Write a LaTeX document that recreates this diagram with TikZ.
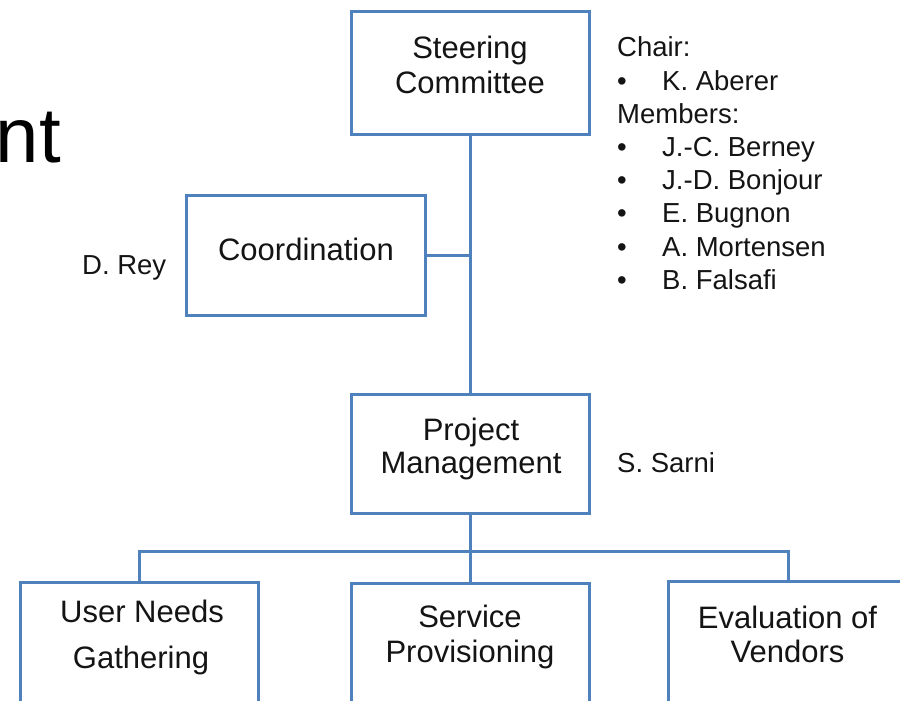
\documentclass[tikz,border=0pt]{standalone}
\usepackage{fontspec}
\setmainfont{Liberation Sans}
\definecolor{boxblue}{RGB}{79,129,189}
\definecolor{txt}{RGB}{20,20,20}
\tikzset{
  orgbox/.style={draw=boxblue, line width=3pt, fill=white, inner sep=0pt},
  conn/.style={draw=boxblue, line width=3pt},
  boxtxt/.style={anchor=base, inner sep=0pt, text=txt, font=\fontsize{31}{34}\selectfont},
  sidetxt/.style={anchor=base west, inner sep=0pt, text=txt, font=\fontsize{27.5}{33}\selectfont},
}
\begin{document}
\begin{tikzpicture}[x=1pt, y=-1pt]
\useasboundingbox (0,0) rectangle (900,701);
\clip (0,0) rectangle (900,701);
% title fragment
\node[anchor=base east, inner sep=0pt, font=\fontsize{78}{90}\selectfont, text=black] (title) at (61,162) {nt};
% boxes
\node[orgbox, minimum width=238pt, minimum height=122pt] (sc) at (470,73) {};
\node[orgbox, minimum width=239pt, minimum height=120pt] (co) at (306,255.5) {};
\node[orgbox, minimum width=238pt, minimum height=119pt] (pm) at (470,454) {};
\node[orgbox, minimum width=238pt, minimum height=200pt] (un) at (139,682) {};
\node[orgbox, minimum width=238pt, minimum height=200pt] (sp) at (470,683) {};
\node[orgbox, minimum width=239pt, minimum height=200pt] (ev) at (788,681) {};
% connectors
\coordinate (bus) at (470,551);
\draw[conn] (sc.south) -- (pm.north);
\draw[conn] (co.east) -- (co.east -| sc.south);
\draw[conn] (pm.south) -- (bus);
\draw[conn] (un.north) |- (bus) -| (ev.north);
\draw[conn] (bus) -- (sp.north);
% box labels
\node[boxtxt] (sc1) at (470,59) {Steering};
\node[boxtxt] (sc2) at (470,93) {Committee};
\node[boxtxt] (co1) at (306,260) {Coordination};
\node[boxtxt] (pm1) at (471,440) {Project};
\node[boxtxt] (pm2) at (471,473) {Management};
\node[boxtxt] (un1) at (142,622) {User Needs};
\node[boxtxt] (un2) at (141,668) {Gathering};
\node[boxtxt] (sp1) at (470,627) {Service};
\node[boxtxt] (sp2) at (470,662) {Provisioning};
\node[boxtxt] (ev1) at (787.5,628) {Evaluation of};
\node[boxtxt] (ev2) at (787.5,662) {Vendors};
% side labels
\node[sidetxt] (rey) at (82,274) {D. Rey};
\node[sidetxt] (sarni) at (617,472) {S. Sarni};
\node[sidetxt] (chair) at (617,57) {Chair:};
\node[sidetxt] (b1) at (617,90) {•};
\node[sidetxt] (m1) at (662,90) {K. Aberer};
\node[sidetxt] (mem) at (617,123) {Members:};
\node[sidetxt] (b2) at (617,156) {•};
\node[sidetxt] (m2) at (662,156) {J.-C. Berney};
\node[sidetxt] (b3) at (617,189) {•};
\node[sidetxt] (m3) at (662,189) {J.-D. Bonjour};
\node[sidetxt] (b4) at (617,222) {•};
\node[sidetxt] (m4) at (662,222) {E. Bugnon};
\node[sidetxt] (b5) at (617,256) {•};
\node[sidetxt] (m5) at (662,256) {A. Mortensen};
\node[sidetxt] (b6) at (617,289) {•};
\node[sidetxt] (m6) at (662,289) {B. Falsafi};
\end{tikzpicture}
\end{document}
